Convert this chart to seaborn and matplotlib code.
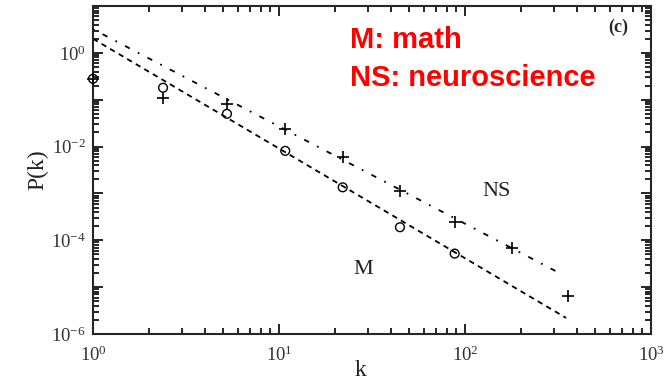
import matplotlib
matplotlib.use("Agg")
import matplotlib.pyplot as plt
import seaborn as sns
import pandas as pd
from matplotlib.ticker import LogLocator, FuncFormatter, NullFormatter

# data
k_m = [1.0, 2.38, 5.25, 10.8, 22.0, 44.7, 88.0]
p_m = [0.28, 0.18, 0.05, 8.1e-3, 1.35e-3, 1.9e-4, 5.2e-5]
k_ns = [1.0, 2.38, 5.25, 10.8, 22.0, 44.7, 88.0, 178.0, 357.0]
p_ns = [0.28, 0.11, 0.081, 0.024, 5.9e-3, 1.15e-3, 2.4e-4, 7e-5, 6.5e-6]
# fitted power-law lines (endpoints)
fit_k_m = [1.0, 350.0]
fit_p_m = [2.0, 2.2e-6]
fit_k_ns = [1.0, 330.0]
fit_p_ns = [3.2, 1.9e-5]

sns.set_style("ticks")
plt.rcParams['font.family'] = ['Liberation Serif', 'DejaVu Serif']
plt.rcParams['mathtext.fontset'] = 'custom'
plt.rcParams['mathtext.rm'] = 'Liberation Serif'
plt.rcParams['mathtext.it'] = 'Liberation Serif:italic'

W, H = 671, 386
fig = plt.figure(figsize=(6.71, 3.86), dpi=100)
ax = fig.add_axes([93 / W, 1 - 334 / H, (651 - 93) / W, (334 - 6) / H])

df_fm = pd.DataFrame({"k": fit_k_m, "P": fit_p_m})
df_fns = pd.DataFrame({"k": fit_k_ns, "P": fit_p_ns})
sns.lineplot(data=df_fm, x="k", y="P", ax=ax, color="black", lw=1.3,
             linestyle=(0, (3, 2.5)))
sns.lineplot(data=df_fns, x="k", y="P", ax=ax, color="black", lw=1.3,
             linestyle=(0, (1, 5, 3, 5)))

df_m = pd.DataFrame({"k": k_m, "P": p_m})
df_ns = pd.DataFrame({"k": k_ns, "P": p_ns})
sns.scatterplot(data=df_m, x="k", y="P", ax=ax, marker="o", s=40,
                facecolors="none", edgecolor="black", linewidth=1.0, clip_on=False, zorder=5)
sns.scatterplot(data=df_ns, x="k", y="P", ax=ax, marker="+", s=70,
                color="black", linewidth=1.2, clip_on=False, zorder=5)

ax.set_xscale("log")
ax.set_yscale("log")
ax.set_xlim(1, 1000)
ax.set_ylim(1e-6, 10)

ax.xaxis.set_major_locator(LogLocator(base=10, numticks=10))
ax.xaxis.set_minor_locator(LogLocator(base=10, subs=range(2, 10), numticks=20))
ax.yaxis.set_major_locator(LogLocator(base=10, subs=(1.0,), numticks=20))
ax.yaxis.set_minor_locator(LogLocator(base=10, subs=range(2, 10), numticks=40))

def yfmt(v, pos):
    import math
    e = int(round(math.log10(v)))
    if e % 2 == 0 and e <= 0:
        return r"$10^{%d}$" % e
    return ""

def xfmt(v, pos):
    import math
    e = int(round(math.log10(v)))
    return r"$10^{%d}$" % e

ax.yaxis.set_major_formatter(FuncFormatter(yfmt))
ax.xaxis.set_major_formatter(FuncFormatter(xfmt))
ax.xaxis.set_minor_formatter(NullFormatter())
ax.yaxis.set_minor_formatter(NullFormatter())

ax.tick_params(which="both", direction="in", top=True, right=True, colors="black",
               labelcolor="#333333", labelsize=13.5, width=1.2)
ax.tick_params(which="major", length=7)
ax.tick_params(which="minor", length=4)
ax.tick_params(axis="x", which="major", pad=8)
ax.tick_params(axis="y", which="major", pad=5)
for s in ax.spines.values():
    s.set_linewidth(1.5)

ax.set_xlabel("")
ax.set_ylabel("P(k)", fontsize=17, color="#222222", labelpad=2)
fig.text(360 / W, 1 - 371 / H, "k", fontsize=17, color="#222222", ha="center", va="center")

ax.text(0.96, 0.96, "(c)", transform=ax.transAxes, fontsize=13, fontweight="bold",
        ha="right", va="top")
fig.text(497 / W, 1 - 192 / H, "NS", fontsize=16, ha="center", va="center", color="#222222")
fig.text(363 / W, 1 - 270 / H, "M", fontsize=16, ha="center", va="center", color="#222222")

fig.text(350 / W, 1 - 40 / H, "M: math", fontsize=21, fontweight="bold",
         color="#ff0000", family="Liberation Sans", ha="left", va="center")
fig.text(350 / W, 1 - 78 / H, "NS: neuroscience", fontsize=21, fontweight="bold",
         color="#ff0000", family="Liberation Sans", ha="left", va="center")

fig.savefig("out.png", dpi=100)
